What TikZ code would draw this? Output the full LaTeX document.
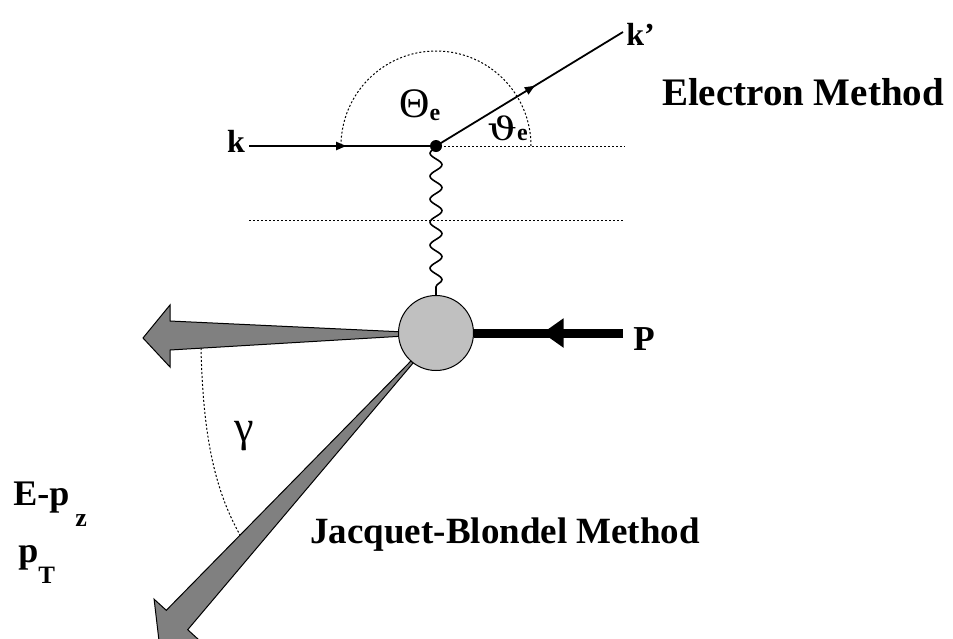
\documentclass[tikz,border=0pt]{standalone}
\usepackage{fontspec}
\setmainfont{Liberation Serif}
\newfontfamily\symfont{DejaVu Serif}
\usetikzlibrary{arrows.meta,decorations.pathmorphing,decorations.markings,calc}
\definecolor{jetGray}{HTML}{808080}
\definecolor{blobGray}{HTML}{C0C0C0}

\tikzset{
  fline/.style={line width=0.9pt},
  midarrow/.style={postaction={decorate},
    decoration={markings,mark=at position #1 with {\arrow{Triangle[length=5pt,width=4pt]}}}},
  guide/.style={line width=0.5pt,dash pattern=on 1pt off 1pt},
  jet/.style={fill=jetGray,draw=black,line width=0.5pt,line join=miter},
  lbl/.style={font=\bfseries\fontsize{#1}{#1}\selectfont,inner sep=0pt},
  vdot/.style={circle,fill=black,inner sep=0pt,minimum size=6pt},
  blob/.style={circle,fill=blobGray,draw=black,line width=0.5pt,inner sep=0pt,minimum size=37.5pt},
}

\begin{document}
\begin{tikzpicture}[x=0.5pt,y=0.5pt]
  \useasboundingbox (0,0) rectangle (953,-638);
  \clip (0,0) rectangle (953,-638);
  % ---- Electron side ----
  \node[vdot] (vtx) at (436,-146) {};
  \node[lbl=16,anchor=base] (k) at (236,-152) {k};
  \node[lbl=16,anchor=base west] (kp) at (626,-45) {k'};
  \coordinate (kin) at (249,-146);
  \coordinate (kout) at (623,-32);
  \draw[fline,midarrow=0.52] (kin) -- (vtx.center);
  \draw[fline,midarrow=0.53] (vtx.center) -- (kout);
  \coordinate (h1) at (625,-146);
  \coordinate (h2a) at (249,-220);
  \coordinate (h2b) at (625,-220);
  \draw[guide] (vtx.center) -- (h1);
  \draw[guide] (h2a) -- (h2b);
  \draw[guide] ($(vtx.center)+(95,0)$) arc[start angle=0,end angle=180,radius=95];
  \node[anchor=base west,inner sep=0pt] (thetaE) at (399,-117)
    {\fontsize{21}{21}\selectfont Θ\raisebox{-1.5pt}{\fontsize{12}{12}\selectfont\bfseries e}};
  \node[anchor=base west,inner sep=0pt] (varthetaE) at (487,-140)
    {\scalebox{1.3}[1]{\symfont\fontsize{16}{16}\selectfont ϑ}\fontsize{12}{12}\selectfont\bfseries e};
  \node[lbl=19.5,anchor=base] (elec) at (803,-105) {Electron Method};
  % ---- Proton side ----
  \coordinate (jlA) at (405,-332);
  \coordinate (jlB) at (405,-336);
  \draw[jet] (jlA) -- (170,-321) -- (170,-305) -- (143,-338) -- (170,-367)
    -- (170,-350) -- (jlB) -- cycle;
  \coordinate (jdA) at (410.9,-361);
  \coordinate (jdB) at (413.1,-363);
  \draw[jet] (jdA) -- (166.3,-610.3) -- (154.1,-599.2) -- (158.9,-640)
    -- (199.9,-640.8) -- (187.7,-629.7) -- (jdB) -- cycle;
  \node[blob] (blob) at (436,-333) {};
  \draw[line width=0.8pt,decorate,
    decoration={snake,amplitude=3pt,segment length=11.5pt,mirror}]
    (vtx.center) -- (blob.north);
  \node[lbl=17.5,anchor=base west] (P) at (633,-350) {P};
  \coordinate (pin) at (623,-333);
  \draw[line width=4.5pt,postaction={decorate},
    decoration={markings,mark=at position 0.54 with
      {\arrow{Triangle[length=10.5pt,width=14pt]}}}] (pin) -- (blob.east);
  % ---- Hadronic angle ----
  \coordinate (ga) at (201,-348);
  \coordinate (gb) at (240,-535);
  \draw[guide] (ga) .. controls (203,-440) and (216,-492) .. (gb);
  \node[inner sep=0pt] (gam) at (244,-436) {\fontsize{22}{22}\selectfont γ};
  \node[lbl=18.5,anchor=base west] (jb) at (310,-543) {Jacquet-Blondel Method};
  \node[lbl=18,anchor=base west] (epz) at (13,-505)
    {E-p\hspace{3pt}\raisebox{-10.5pt}{\fontsize{13}{13}\selectfont z}};
  \node[lbl=18,anchor=base west] (pt) at (18,-562)
    {p\raisebox{-10.5pt}{\fontsize{12.5}{12.5}\selectfont T}};
\end{tikzpicture}
\end{document}
